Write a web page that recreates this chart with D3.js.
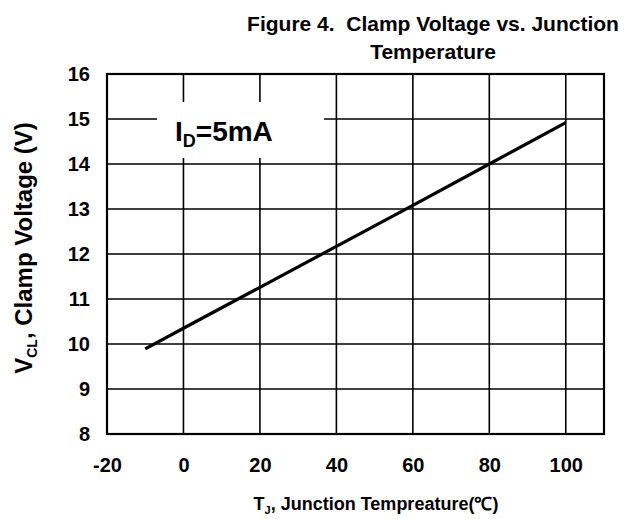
<!DOCTYPE html>
<html>
<head>
<meta charset="utf-8">
<script src="https://cdn.jsdelivr.net/npm/d3@7"></script>
<style>
	body { margin: 0; background: #fff; }
	text { font-family: "Liberation Sans", Arial, sans-serif; font-weight: bold; fill: #000; }
</style>
</head>
<body>
<div id="chart"></div>
<script>
'use strict';

// values
let temps = [-10, 0, 20, 40, 60, 80, 100];
let volts = [9.89, 10.35, 11.26, 12.17, 13.08, 14.0, 14.92];
let xticks = [-20, 0, 20, 40, 60, 80, 100];
let yticks = [8, 9, 10, 11, 12, 13, 14, 15, 16];

let width = 628;
let height = 519;
let m = {left: 107, right: 24, top: 74, bottom: 85};

let svg = d3.select('#chart')
	.append('svg')
		.attr('width', width)
		.attr('height', height)
	;

let x = d3.scaleLinear().domain([-20, 110]).range([m.left, width - m.right]);
let y = d3.scaleLinear().domain([8, 16]).range([height - m.bottom, m.top]);

let grid = svg.append('g').classed('grid', true);

// vertical grid lines
grid.selectAll('line.v')
	.data(xticks.slice(1))
	.enter().append('line')
		.classed('v', true)
		.attr('x1', d => x(d))
		.attr('x2', d => x(d))
		.attr('y1', y(8))
		.attr('y2', y(16))
		.attr('stroke', '#000')
		.attr('stroke-width', 1.6)
	;

// horizontal grid lines
grid.selectAll('line.h')
	.data(yticks.slice(1, -1))
	.enter().append('line')
		.classed('h', true)
		.attr('x1', x(-20))
		.attr('x2', x(110))
		.attr('y1', d => y(d))
		.attr('y2', d => y(d))
		.attr('stroke', '#000')
		.attr('stroke-width', 1.6)
	;

// label box hides grid lines behind it
svg.append('rect')
	.attr('x', 157)
	.attr('y', 102)
	.attr('width', 167)
	.attr('height', 56)
	.attr('fill', '#fff')
	;

let lbl = svg.append('text')
	.attr('x', 175)
	.attr('y', 141)
	.style('font-size', '28px')
	;
lbl.append('tspan').text('I');
lbl.append('tspan').attr('dy', 6).style('font-size', '18px').text('D');
lbl.append('tspan').attr('dy', -6).text('=5mA');

// frame
svg.append('rect')
	.attr('x', x(-20))
	.attr('y', y(16))
	.attr('width', x(110) - x(-20))
	.attr('height', y(8) - y(16))
	.attr('fill', 'none')
	.attr('stroke', '#000')
	.attr('stroke-width', 2.2)
	;

let line = d3.line()
	.x((d, i) => x(temps[i]))
	.y(d => y(d));

svg.append('path')
	.datum(volts)
	.attr('d', line)
	.attr('fill', 'none')
	.attr('stroke', '#000')
	.attr('stroke-width', 3.2)
	;

// axes, only for labels
let xa = svg.append('g')
	.attr('transform', 'translate(0,' + y(8) + ')')
	.call(d3.axisBottom(x).tickValues(xticks).tickSize(0).tickPadding(24).tickFormat(d => String(d)))
	;
xa.select('.domain').remove();
xa.selectAll('text').style('font-size', '20px').style('font-family', null);

let ya = svg.append('g')
	.attr('transform', 'translate(' + (x(-20) - 17) + ',0)')
	.call(d3.axisLeft(y).tickValues(yticks).tickSize(0).tickPadding(0))
	;
ya.select('.domain').remove();
ya.selectAll('text').style('font-size', '20px').style('font-family', null);

// titles
let title = svg.append('text')
	.attr('text-anchor', 'middle')
	.style('font-size', '21px')
	;
title.append('tspan').attr('x', 433).attr('y', 31).text('Figure 4.\u00a0\u00a0Clamp Voltage vs. Junction');
title.append('tspan').attr('x', 433).attr('y', 59).text('Temperature');

let xt = svg.append('text')
	.attr('x', 376)
	.attr('y', 510)
	.attr('text-anchor', 'middle')
	.style('font-size', '18px')
	;
xt.append('tspan').text('T');
xt.append('tspan').attr('dy', 4).style('font-size', '11px').text('J');
xt.append('tspan').attr('dy', -4).text(', Junction Tempreature(\u2103)');

let yt = svg.append('text')
	.attr('transform', 'translate(32,' + 248 + ') rotate(-90)')
	.attr('text-anchor', 'middle')
	.style('font-size', '24px')
	;
yt.append('tspan').text('V');
yt.append('tspan').attr('dy', 5).style('font-size', '14px').text('CL');
yt.append('tspan').attr('dy', -5).text(', Clamp Voltage (V)');
</script>
</body>
</html>
